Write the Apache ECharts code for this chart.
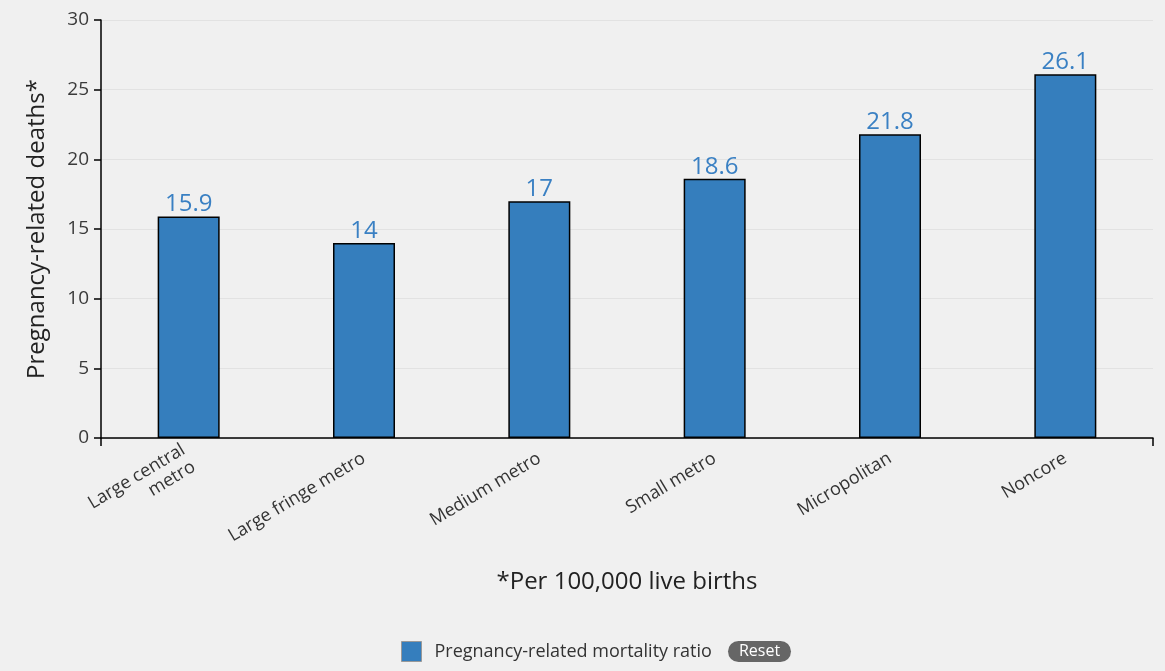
<!DOCTYPE html>
<html>
<head>
<meta charset="utf-8">
<script src="https://cdn.jsdelivr.net/npm/echarts@6/dist/echarts.min.js"></script>
<style>
  html, body { margin: 0; padding: 0; background: #f0f0f0; }
  #chart { width: 1165px; height: 671px; }
</style>
</head>
<body>
<div id="chart"></div>
<script>
// Pregnancy-related mortality ratio by urbanization level
const categories = ['Large central\nmetro', 'Large fringe metro', 'Medium metro', 'Small metro', 'Micropolitan', 'Noncore'];
const ratios = [15.9, 14, 17, 18.6, 21.8, 26.1];
const seriesName = 'Pregnancy-related mortality ratio';
const yAxisTitle = 'Pregnancy-related deaths*';
const xAxisTitle = '*Per 100,000 live births';

const font = '"Open Sans", "Noto Sans", sans-serif';
const chart = echarts.init(document.getElementById('chart'));

chart.setOption({
  backgroundColor: '#f0f0f0',
  textStyle: { fontFamily: font },
  animation: false,
  grid: { left: 101, right: 12, top: 20, bottom: 233 },
  legend: {
    data: [seriesName],
    left: 396, top: 636,
    itemWidth: 20, itemHeight: 20,
    icon: 'rect',
    selectedMode: false,
    itemStyle: { borderColor: '#999', borderWidth: 1 },
    textStyle: { fontFamily: font, fontSize: 18, color: '#333', padding: [0, 0, 0, 8] }
  },
  xAxis: [{
    type: 'category',
    data: categories,
    axisLine: { lineStyle: { color: '#000', width: 1.5 } },
    axisTick: { alignWithLabel: true, length: 7, lineStyle: { color: '#000', width: 1.5 } },
    axisLabel: { rotate: 31, fontSize: 18, color: '#333', margin: 19, fontFamily: font, lineHeight: 20 },
    name: xAxisTitle,
    nameLocation: 'middle',
    nameGap: 132,
    nameTextStyle: { fontSize: 24, color: '#222', fontFamily: font }
  }, {
    // end ticks at both sides of the category axis
    type: 'value',
    position: 'bottom',
    min: 0, max: 1, interval: 1,
    axisLine: { show: false },
    axisTick: { show: true, length: 8, lineStyle: { color: '#000', width: 1.5 } },
    axisLabel: { show: false },
    splitLine: { show: false }
  }],
  yAxis: {
    type: 'value',
    min: 0, max: 30, interval: 5,
    axisLine: { show: true, lineStyle: { color: '#000', width: 1.5 } },
    axisTick: { show: true, length: 7, lineStyle: { color: '#000', width: 1.5 } },
    axisLabel: { fontSize: 19, color: '#3a3a3a', margin: 12, fontFamily: font },
    splitLine: { lineStyle: { color: '#e2e2e2', width: 1 } },
    name: yAxisTitle,
    nameLocation: 'middle',
    nameGap: 52,
    nameTextStyle: { fontSize: 24, color: '#222', fontFamily: font }
  },
  series: [{
    name: seriesName,
    type: 'bar',
    data: ratios,
    xAxisIndex: 0,
    barWidth: 62,
    itemStyle: { color: '#357ebd', borderColor: '#000', borderWidth: 1.5 },
    label: {
      show: true, position: 'top', distance: 0,
      fontSize: 24, color: '#3a80c3', fontFamily: font
    }
  }],
  graphic: [{
    type: 'group',
    left: 728, top: 641,
    children: [{
      type: 'rect',
      shape: { x: 0, y: 0, width: 63, height: 21, r: 10.5 },
      style: { fill: '#666' }
    }, {
      type: 'text',
      x: 31.5, y: 10.5,
      style: {
        text: 'Reset', fill: '#fff', fontSize: 16, fontFamily: font,
        align: 'center', verticalAlign: 'middle'
      }
    }]
  }]
});
</script>
</body>
</html>
